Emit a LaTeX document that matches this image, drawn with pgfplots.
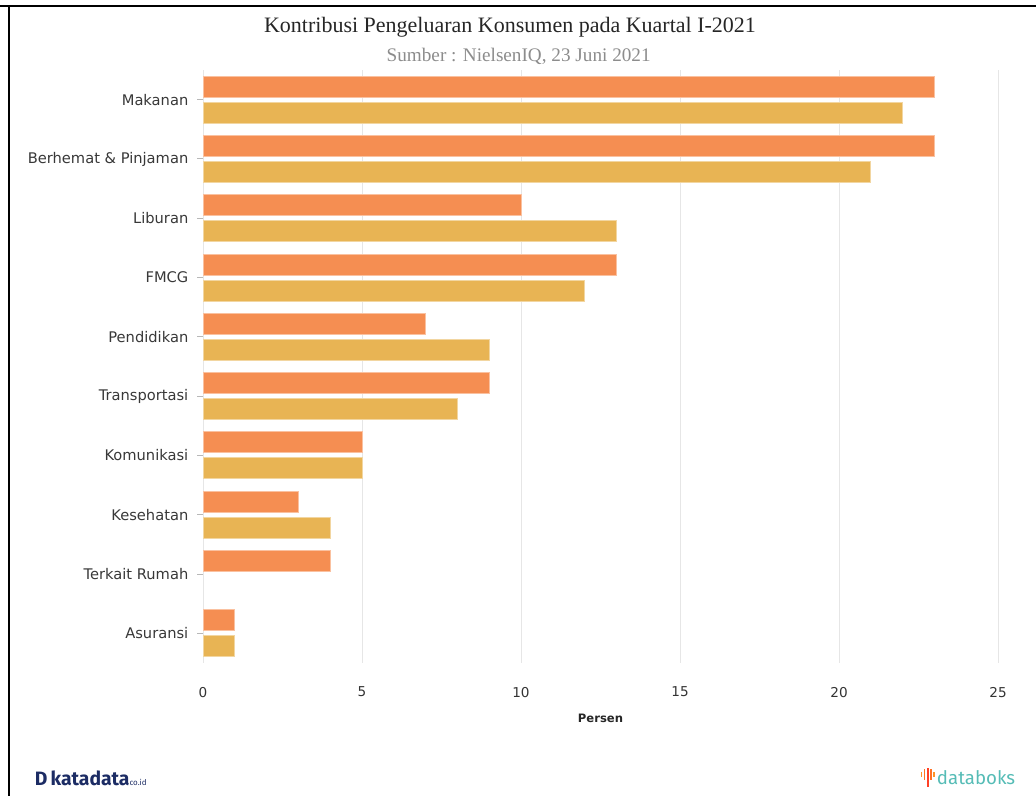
\documentclass[border=0pt]{standalone}
\usepackage{pgfplots}
\pgfplotsset{compat=1.18}
\usepackage{fontspec}
\setmainfont{DejaVu Sans}
\newfontfamily\titlefont{Liberation Serif}
\newfontfamily\logofont{Fira Sans}
\definecolor{cOrange}{RGB}{245,142,82}
\definecolor{cYellow}{RGB}{232,180,84}
\definecolor{cGrid}{RGB}{230,230,230}
\definecolor{cNavy}{RGB}{28,44,100}
\definecolor{cTeal}{RGB}{86,188,182}
\begin{document}
\begin{tikzpicture}
\useasboundingbox (0,0) rectangle (777pt,-597pt);
\draw[black, line width=2pt] (0,-4.5pt) -- (777pt,-4.5pt);
\draw[black, line width=1.5pt] (6.75pt,-4.5pt) -- (6.75pt,-597pt);
\node[font=\titlefont\fontsize{16.5}{19}\selectfont, text=black!85] at (382.5pt,-20.25pt) {Kontribusi Pengeluaran Konsumen pada Kuartal I-2021};
\node[font=\titlefont\fontsize{14.4}{17}\selectfont, text=black!45] at (389pt,-42pt) {Sumber : NielsenIQ, 23 Juni 2021};
\begin{axis}[
  at={(152.25pt,-497.25pt)}, anchor=south west,
  scale only axis, width=596.25pt, height=444.75pt,
  xmin=0, xmax=25, ymin=-0.5, ymax=9.5,
  xtick={0,5,10,15,20,25},
  ytick={0,1,2,3,4,5,6,7,8,9},
  yticklabels={Asuransi,Terkait Rumah,Kesehatan,Komunikasi,Transportasi,Pendidikan,FMCG,Liburan,Berhemat \& Pinjaman,Makanan},
  xmajorgrids, major grid style={color=cGrid, line width=0.75pt},
  axis line style={draw=none},
  xtick style={draw=none},
  ytick style={draw=cGrid!80!black, line width=0.75pt},
  major tick length=4.5pt, tick align=outside,
  xtick pos=bottom, ytick pos=left,
  /pgf/number format/assume math mode=true,
  yticklabel style={font=\fontsize{11}{13}\selectfont, text=black!78, xshift=-3pt},
  xticklabel style={font=\fontsize{10.2}{12}\selectfont, text=black!80, yshift=-10pt},
  clip=false,
]
\addplot[xbar, bar width=15.75pt, bar shift=9.75pt, fill=cOrange, draw=cOrange!55!white, line width=0.75pt]
  coordinates {(23,9) (23,8) (10,7) (13,6) (7,5) (9,4) (5,3) (3,2) (4,1) (1,0)};
\addplot[xbar, bar width=15.75pt, bar shift=-9.75pt, fill=cYellow, draw=cYellow!55!white, line width=0.75pt]
  coordinates {(22,9) (21,8) (13,7) (12,6) (9,5) (8,4) (5,3) (4,2) (1,0)};
\end{axis}
\node[font=\bfseries\fontsize{8.7}{10}\selectfont, text=black!85] at (450.4pt,-538.5pt) {Persen};
% katadata logo
\node[anchor=west, inner sep=0pt, text=cNavy] at (26pt,-583.5pt) {\logofont\bfseries\fontsize{14.5}{16}\selectfont D\,katadata{\mdseries\fontsize{6}{7}\selectfont co.id}};
% databoks logo
\foreach \xx/\yt/\yb/\cc in {690.5/-579/-583/orange, 692.8/-577/-585/orange!70!red, 695.1/-576/-590/red!75!orange, 697.4/-577/-585/orange!70!red, 699.7/-579/-583/orange}
  \fill[\cc!85!white] (\xx pt,\yt pt) rectangle ++(1.3pt,\yb pt - \yt pt);
\node[anchor=west, inner sep=0pt, text=cTeal] at (702.5pt,-583pt) {\logofont\fontsize{14}{16}\selectfont databoks};
\end{tikzpicture}
\end{document}
